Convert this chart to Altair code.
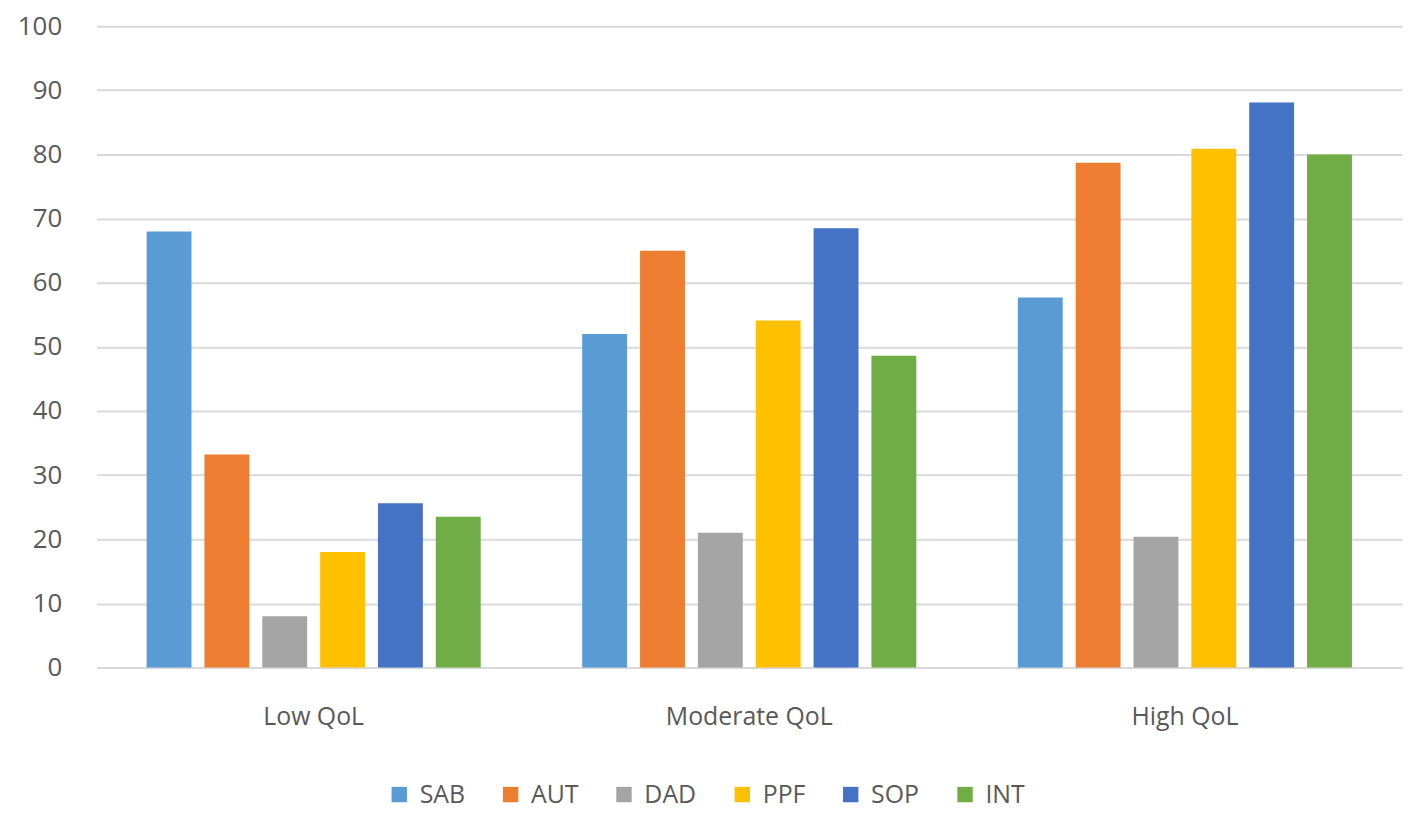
import altair as alt
import pandas as pd

categories = ["Low QoL", "Moderate QoL", "High QoL"]
series = ["SAB", "AUT", "DAD", "PPF", "SOP", "INT"]
colors = ["#5B9BD5", "#ED7D31", "#A5A5A5", "#FFC000", "#4472C4", "#70AD47"]
values = {
    "SAB": [68.0, 52.0, 57.7],
    "AUT": [33.2, 65.0, 78.7],
    "DAD": [8.0, 21.0, 20.4],
    "PPF": [18.0, 54.1, 80.9],
    "SOP": [25.6, 68.5, 88.1],
    "INT": [23.5, 48.6, 80.0],
}

rows = []
for s in series:
    for c, v in zip(categories, values[s]):
        rows.append({"category": c, "series": s, "value": v})
df = pd.DataFrame(rows)

FONT = "Open Sans"
GRAY = "#595959"

chart = alt.Chart(df).mark_bar().encode(
    x=alt.X("category:N", sort=categories,
            scale=alt.Scale(paddingInner=0.233, paddingOuter=0.115, round=False),
            axis=alt.Axis(title=None, labelAngle=0, ticks=False, domain=True,
                          domainColor="#d9d9d9", domainWidth=2,
                          labelFontSize=25, labelColor=GRAY, labelFont=FONT,
                          labelPadding=37)),
    xOffset=alt.XOffset("series:N", sort=series,
                        scale=alt.Scale(paddingInner=0.224, paddingOuter=0, round=False)),
    y=alt.Y("value:Q", scale=alt.Scale(domain=[0, 100]),
            axis=alt.Axis(title=None, values=list(range(0, 101, 10)),
                          ticks=False, domain=False,
                          gridColor="#d9d9d9", gridWidth=2,
                          labelFontSize=26, labelColor=GRAY, labelFont=FONT,
                          labelPadding=35)),
    color=alt.Color("series:N", sort=series,
                    scale=alt.Scale(domain=series, range=colors),
                    legend=alt.Legend(title=None, orient="none", direction="horizontal",
                                      legendX=292, legendY=760,
                                      symbolType="square", symbolSize=240,
                                      symbolStrokeWidth=0,
                                      labelFontSize=25, labelColor=GRAY,
                                      labelFont=FONT, columnPadding=33,
                                      labelOffset=8)),
).properties(
    width=1313, height=645,
    autosize=alt.AutoSizeParams(type="none"),
    padding={"left": 89, "top": 16, "right": 8, "bottom": 143},
).configure_view(stroke=None)

chart.save("out.html", embed_options={"renderer": "svg", "actions": False})
